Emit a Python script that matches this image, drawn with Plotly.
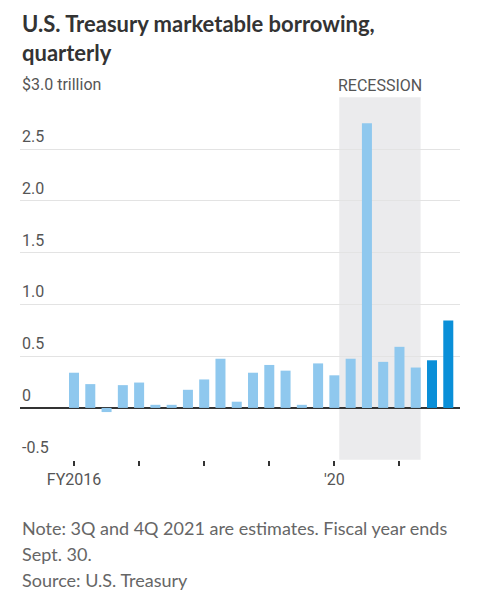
import plotly.graph_objects as go

quarters = [f"FY{y} Q{q}" for y in range(2016, 2022) for q in range(1, 5)]
values = [0.34, 0.23, -0.04, 0.22, 0.245, 0.03, 0.03, 0.175,
          0.275, 0.475, 0.06, 0.34, 0.415, 0.36, 0.03, 0.43,
          0.315, 0.475, 2.75, 0.445, 0.59, 0.39, 0.46, 0.845]
estimate = [False] * 22 + [True, True]
tick_labels = ["FY2016", "", "", "", "'20", ""]
y_labels = ["-0.5", "0", "0.5", "1.0", "1.5", "2.0", "2.5", "$3.0 trillion"]
y_vals = [-0.5, 0, 0.5, 1.0, 1.5, 2.0, 2.5, 3.0]
note_lines = ["Note: 3Q and 4Q 2021 are estimates. Fiscal year ends", "Sept. 30.", "Source: U.S. Treasury"]

light = "#8fc8ee"
dark = "#0a8fd8"
colors = [dark if e else light for e in estimate]

fig = go.Figure()
fig.add_trace(go.Bar(x=list(range(len(quarters))), y=values, marker_color=colors,
                     marker_line_width=0, hovertext=quarters))

# recession shading
fig.add_shape(type="rect", xref="x", yref="y", x0=16.3, x1=21.3, y0=-0.5, y1=3.0,
              fillcolor="#ebebed", line_width=0, layer="below")

tickvals = [i for i in range(len(quarters)) if i % 4 == 0]
narrow = "Liberation Sans Narrow, Roboto, sans-serif"

fig.update_layout(
    width=491, height=592,
    margin=dict(l=12, r=39, t=89, b=140),
    plot_bgcolor="white", paper_bgcolor="white",
    showlegend=False, bargap=0.385,
    font=dict(family="Lato, Roboto, sans-serif", color="#555"),
    xaxis=dict(range=[-3.32, 23.72], tickvals=tickvals, ticktext=tick_labels,
               ticks="outside", ticklen=5, tickwidth=1.5, tickcolor="#333",
               showgrid=False, zeroline=False, showline=False,
               tickfont=dict(size=16, color="#555", family=narrow)),
    yaxis=dict(range=[-0.503, 3.003], tickvals=y_vals, showticklabels=False,
               showgrid=True, gridcolor="#e3e3e3", gridwidth=1,
               zeroline=True, zerolinecolor="#333", zerolinewidth=1.5),
)

annotations = [
    dict(text="<b>U.S. Treasury marketable borrowing,</b><br><b>quarterly</b>", x=0, y=1,
         xref="paper", yref="paper", xanchor="left", yanchor="top", align="left",
         yshift=89, showarrow=False,
         font=dict(size=22, color="#333", family="Lato, Roboto, sans-serif")),
    dict(text="RECESSION", x=18.8, y=3.0, xref="x", yref="y", xanchor="center", yanchor="bottom",
         showarrow=False, font=dict(size=16, color="#555", family=narrow)),
]
for i, line in enumerate(note_lines):
    annotations.append(dict(text=line, x=0, y=0, xref="paper", yref="paper", xanchor="left",
                            yanchor="middle", yshift=-68 - 26 * i, showarrow=False,
                            font=dict(size=18, color="#666", family="Lato, Roboto, sans-serif")))
for v, lab in zip(y_vals, y_labels):
    annotations.append(dict(text=lab, x=0, y=v, xref="paper", yref="y", xanchor="left",
                            yanchor="bottom", showarrow=False, yshift=1,
                            font=dict(size=16, color="#555", family=narrow)))
fig.update_layout(annotations=annotations)

fig.write_html("out.html")
